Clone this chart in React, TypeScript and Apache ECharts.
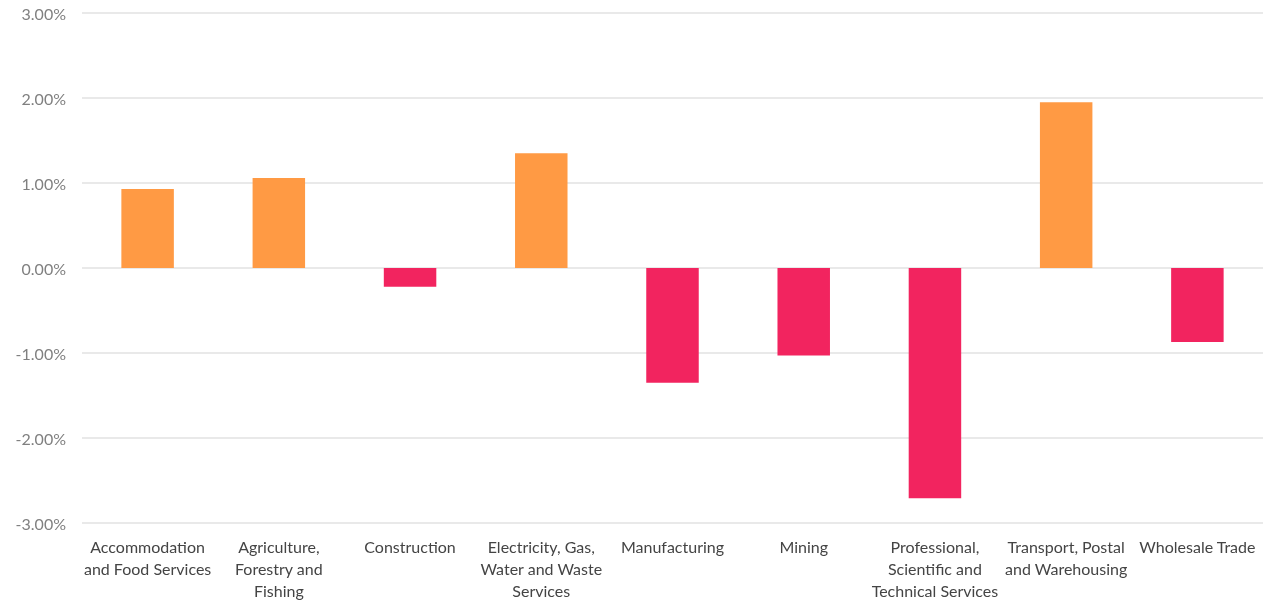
import React, { useEffect, useRef } from "react";
import * as echarts from "echarts";

const categories = [
  "Accommodation\nand Food Services",
  "Agriculture,\nForestry and\nFishing",
  "Construction",
  "Electricity, Gas,\nWater and Waste\nServices",
  "Manufacturing",
  "Mining",
  "Professional,\nScientific and\nTechnical Services",
  "Transport, Postal\nand Warehousing",
  "Wholesale Trade",
];
const values = [0.93, 1.06, -0.22, 1.35, -1.35, -1.03, -2.71, 1.95, -0.87];
const yTicks = { min: -3, max: 3, interval: 1 };

export default function App() {
  const ref = useRef<HTMLDivElement>(null);
  useEffect(() => {
    const chart = echarts.init(ref.current!, undefined, { renderer: "svg" });
    chart.setOption({
      animation: false,
      textStyle: { fontFamily: "Lato, 'Open Sans', sans-serif" },
      grid: { left: 82, right: -4, top: 13, bottom: 75 },
      xAxis: {
        type: "category",
        data: categories,
        axisLine: { show: false },
        axisTick: { show: false },
        axisLabel: {
          interval: 0,
          color: "#444",
          fontSize: 16,
          lineHeight: 22,
          margin: 12,
        },
      },
      yAxis: {
        type: "value",
        min: yTicks.min,
        max: yTicks.max,
        interval: yTicks.interval,
        axisLine: { show: false },
        axisTick: { show: false },
        splitLine: { lineStyle: { color: "#e2e2e2", width: 1.5 } },
        axisLabel: {
          color: "#808080",
          fontSize: 16,
          margin: 16,
          formatter: (v: number) => v.toFixed(2) + "%",
        },
      },
      series: [
        {
          type: "bar",
          data: values,
          barWidth: "40%",
          itemStyle: {
            color: (p: any) => (p.value >= 0 ? "#FF9A44" : "#F2245F"),
          },
        },
      ],
    });
    return () => chart.dispose();
  }, []);
  return (
    <div
      ref={ref}
      style={{ position: "fixed", left: 0, top: 0, width: 1263, height: 601 }}
    />
  );
}
